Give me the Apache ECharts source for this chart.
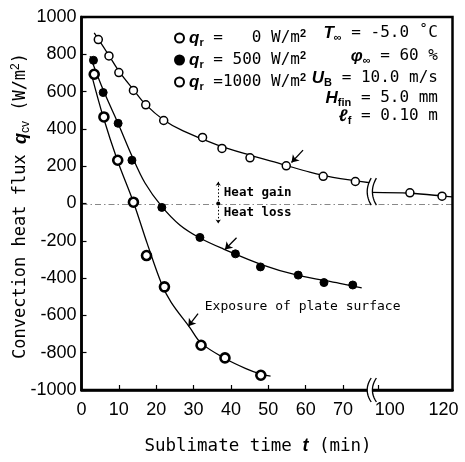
<!DOCTYPE html>
<html>
<head>
<meta charset="utf-8">
<script src="https://cdn.jsdelivr.net/npm/echarts@6/dist/echarts.min.js"></script>
<style>
  html, body { margin: 0; padding: 0; background: #fff; }
  #chart { width: 465px; height: 462px; }
</style>
</head>
<body>
<div id="chart"></div>
<script>
// Measured convection heat flux [sublimate time (min), q_cv (W/m²)]
const pts0 = [[4.5, 879], [7.35, 791], [10, 702], [13.9, 606], [17.2, 529], [22, 445],
  [32.4, 354], [37.6, 295], [45.1, 245], [54.8, 202], [64.7, 146], [73.3, 118],
  [108.6, 57], [117.2, 39]];
const pts500 = [[3.2, 768], [5.8, 595], [9.8, 430], [13.5, 232], [21.5, -21],
  [31.7, -182], [41.2, -270], [47.9, -340], [58, -384], [64.9, -424], [72.6, -437]];
const pts1000 = [[3.4, 693], [6.0, 464], [9.7, 232], [13.9, 7], [17.4, -279], [22.2, -447],
  [32, -760], [38.4, -828], [48, -921]];

// Fitted curves through each data set (null splits the curve at the time-axis break)
const fit0 = [[3.4, 915], [7.3, 795], [10, 710], [14, 608], [17.2, 530], [22, 448],
  [27.2, 389], [36.1, 316], [45.1, 259], [54, 209], [61.1, 168], [67.3, 140], [77.7, 110],
  null, [98.4, 60], [108.6, 55], [118.4, 38], [120, 35]];
const fit500 = [[2.3, 790], [6, 600], [10, 420], [13.5, 255], [17, 110], [21.4, -14],
  [26.3, -115], [31.7, -185], [37.9, -243], [48.6, -330], [57.5, -383], [69.1, -428], [75, -452]];
const fit1000 = [[2.7, 690], [5.8, 465], [9.6, 232], [13.9, 7], [17.6, -215], [21.4, -429],
  [24, -530], [29, -665], [32.1, -750], [38.8, -835], [44, -885], [48, -915], [50.6, -926]];

// Axis ticks
const xTickValues = [0, 10, 20, 30, 40, 50, 60, 70, 100, 120];
const yTickStep = 200;
const timeBreak = { start: 77.7, end: 98.4 };

// Legend text per radiation level
const qrLevels = ['0', '500', '1000'];
const qrText = { '0': ' =   0', '500': ' = 500', '1000': ' =1000' };

const MONO = 'DejaVu Sans Mono';
const SANS = 'Liberation Sans';

const chart = echarts.init(document.getElementById('chart'), null, { renderer: 'canvas' });

const lineStyle = { color: '#000', width: 1.3 };
function fitSeries(data) {
  return {
    type: 'line', data: data, smooth: 0.35, showSymbol: false, silent: true,
    connectNulls: false, lineStyle: lineStyle, z: 2
  };
}

const subRich = {
  m: { fontFamily: MONO, fontSize: 16, color: '#000', lineHeight: 20 },
  i: { fontFamily: SANS, fontSize: 17, fontStyle: 'italic', fontWeight: 'bold', color: '#000', lineHeight: 20 },
  s: { fontFamily: SANS, fontSize: 11, fontWeight: 'bold', color: '#000', lineHeight: 11, verticalAlign: 'bottom' },
  p: { fontFamily: SANS, fontSize: 11, fontWeight: 'bold', color: '#000', lineHeight: 11, verticalAlign: 'top' }
};

chart.setOption({
  animation: false,
  backgroundColor: '#fff',
  grid: {
    left: 81.5, right: 12.5, top: 17, bottom: 72,
    show: true, borderColor: '#000', borderWidth: 2.5,
    containLabel: false, outerBoundsMode: 'none'
  },
  xAxis: {
    type: 'value', min: 0, max: 120, interval: 10,
    breaks: [{ start: timeBreak.start, end: timeBreak.end, gap: 0 }],
    breakArea: { show: false },
    axisLine: { show: true, onZero: false, lineStyle: { color: '#000', width: 2.5 } },
    axisTick: { show: true, inside: true, length: 5, lineStyle: { color: '#000', width: 1.2 },
      customValues: xTickValues.slice(1, -1) },
    splitLine: { show: false },
    axisLabel: {
      customValues: xTickValues, hideOverlap: false, margin: 11,
      fontFamily: SANS, fontSize: 18, color: '#000',
      formatter: function (v) {
        if (v === 100) return '{r|100}';
        if (v === 120) return '{l|120}';
        return String(v);
      },
      rich: {
        r: { fontFamily: SANS, fontSize: 18, color: '#000', padding: [0, 0, 0, 24] },
        l: { fontFamily: SANS, fontSize: 18, color: '#000', padding: [0, 18, 0, 0] }
      }
    }
  },
  yAxis: {
    type: 'value', min: -1000, max: 1000, interval: yTickStep,
    axisLine: { show: true, onZero: false, lineStyle: { color: '#000', width: 2.5 } },
    axisTick: { show: true, inside: true, length: 5, lineStyle: { color: '#000', width: 1.2 } },
    splitLine: { show: false },
    axisLabel: { margin: 5, fontFamily: SANS, fontSize: 18, color: '#000',
      formatter: function (v) { return String(v); } }
  },
  legend: {
    orient: 'vertical', left: 169, top: 23, itemWidth: 9, itemHeight: 9, itemGap: 2,
    selectedMode: false, data: qrLevels,
    formatter: function (n) { return '{i|q}{s|r}{m|' + qrText[n] + ' W/m}{p|2}'; },
    textStyle: { rich: subRich }
  },
  series: [
    fitSeries(fit0), fitSeries(fit500), fitSeries(fit1000),
    {
      name: '0', type: 'scatter', data: pts0, symbol: 'circle', symbolSize: 8, z: 5,
      itemStyle: { color: '#fff', borderColor: '#000', borderWidth: 1.5, opacity: 1 },
      markLine: {
        silent: true, symbol: ['none', 'arrow'], symbolSize: 7, animation: false,
        label: { show: false },
        lineStyle: { color: '#000', width: 1.3, type: 'solid' },
        data: [
          [{ coord: [59.3, 286] }, { coord: [56.2, 220] }],
          [{ coord: [41.5, -184] }, { coord: [38.4, -247] }],
          [{ coord: [31.2, -590] }, { coord: [28.6, -658] }],
          [{ coord: [36.6, 116], symbol: 'arrow', symbolSize: 4,
             lineStyle: { color: '#000', width: 1, type: [1.5, 2] } },
           { coord: [36.6, -107], symbol: 'arrow', symbolSize: 4 }]
        ]
      },
      markPoint: {
        silent: true, symbol: 'circle', symbolSize: 4, label: { show: false },
        itemStyle: { color: '#000' },
        data: [{ coord: [36.6, 0] }]
      }
    },
    {
      name: '500', type: 'scatter', data: pts500, symbol: 'circle', symbolSize: 8, z: 5,
      itemStyle: { color: '#000', borderColor: '#000', borderWidth: 1, opacity: 1 }
    },
    {
      name: '1000', type: 'scatter', data: pts1000, symbol: 'circle', symbolSize: 9, z: 5,
      itemStyle: { color: '#fff', borderColor: '#000', borderWidth: 2.6, opacity: 1 }
    }
  ]
});

// Pixel position of a data point
function px(t, q) {
  return chart.convertToPixel({ xAxisIndex: 0, yAxisIndex: 0 }, [t, q]);
}

// "((" mark drawn where the time axis is broken
function breakMark(xc, y0, y1) {
  const bow = 8, half = 2.6, n = 12;
  function curvePts(dx) {
    const x0 = xc + dx + 2, cx = x0 - bow, my = (y0 + y1) / 2;
    const out = [];
    for (let k = 0; k <= n; k++) {
      const u = k / n;
      out.push([(1 - u) * (1 - u) * x0 + 2 * u * (1 - u) * cx + u * u * x0,
        (1 - u) * (1 - u) * y0 + 2 * u * (1 - u) * my + u * u * y1]);
    }
    return out;
  }
  const a = curvePts(-half), b = curvePts(half);
  return {
    type: 'group', z: 100, silent: true,
    children: [
      { type: 'polygon', shape: { points: a.concat(b.slice().reverse()) }, style: { fill: '#fff' }, z: 100 },
      { type: 'polyline', shape: { points: a }, style: { stroke: '#000', lineWidth: 1.3, fill: null }, z: 101 },
      { type: 'polyline', shape: { points: b }, style: { stroke: '#000', lineWidth: 1.3, fill: null }, z: 101 }
    ]
  };
}

const axisBreakPos = px(timeBreak.start, -1000);
const curveTop = px(timeBreak.start, 136);
const curveBottom = px(timeBreak.start, -9);
const zeroLeft = px(0, 0), zeroRight = px(120, 0);
const zeroY = Math.round(zeroLeft[1]) + 0.5;

const noteFont = { fontFamily: MONO, fontSize: 12.5, fontWeight: 'bold', fill: '#000' };
const gainPos = px(38.1, 59), lossPos = px(38.1, -48), expoPos = px(33, -554);

function paramText(y, text) {
  return {
    type: 'text', x: 438, y: y, z: 50, silent: true,
    style: { text: text, align: 'right', verticalAlign: 'middle', rich: subRich }
  };
}

chart.setOption({
  graphic: [
    // zero flux reference line (heat gain above, heat loss below)
    { type: 'line', silent: true, z: -1,
      shape: { x1: zeroLeft[0], y1: zeroY, x2: zeroRight[0], y2: zeroY },
      style: { stroke: '#888', lineWidth: 1, lineDash: [6, 3, 1.5, 3] } },
    breakMark(axisBreakPos[0], axisBreakPos[1] - 12, axisBreakPos[1] + 12),
    breakMark(curveTop[0], curveTop[1], curveBottom[1]),
    { type: 'text', x: gainPos[0], y: gainPos[1], silent: true,
      style: Object.assign({ text: 'Heat gain', verticalAlign: 'middle' }, noteFont) },
    { type: 'text', x: lossPos[0], y: lossPos[1], silent: true,
      style: Object.assign({ text: 'Heat loss', verticalAlign: 'middle' }, noteFont) },
    { type: 'text', x: expoPos[0], y: expoPos[1], silent: true,
      style: { text: 'Exposure of plate surface', verticalAlign: 'middle',
        fontFamily: MONO, fontSize: 13, fill: '#000' } },
    paramText(33, '{i|T}{s|∞}{m| = -5.0 ˚C}'),
    paramText(56, '{i|φ}{s|∞}{m| = 60 %}'),
    paramText(78, '{i|U}{s|B}{m| = 10.0 m/s}'),
    paramText(98, '{i|H}{s|fin}{m| = 5.0 mm}'),
    paramText(116, '{i|ℓ}{s|f}{m| = 0.10 m}'),
    { type: 'text', x: 21, y: 206, rotation: Math.PI / 2, silent: true,
      style: {
        text: '{t|Convection heat flux }{i|q}{s|cv}{t| (W/m}{p|2}{t|)}',
        align: 'center', verticalAlign: 'middle',
        rich: {
          t: { fontFamily: MONO, fontSize: 17, color: '#000', lineHeight: 22 },
          i: { fontFamily: SANS, fontSize: 18, fontStyle: 'italic', fontWeight: 'bold', color: '#000', lineHeight: 22 },
          s: { fontFamily: SANS, fontSize: 12, color: '#000', lineHeight: 12, verticalAlign: 'bottom' },
          p: { fontFamily: SANS, fontSize: 12, color: '#000', lineHeight: 12, verticalAlign: 'top' }
        }
      } },
    { type: 'text', x: 258, y: 446, silent: true,
      style: {
        text: '{t|Sublimate time }{i|t}{t| (min)}',
        align: 'center', verticalAlign: 'middle',
        rich: {
          t: { fontFamily: MONO, fontSize: 17.5, color: '#000', lineHeight: 22 },
          i: { fontFamily: SANS, fontSize: 18, fontStyle: 'italic', fontWeight: 'bold', color: '#000', lineHeight: 22 }
        }
      } }
  ]
});
</script>
</body>
</html>
